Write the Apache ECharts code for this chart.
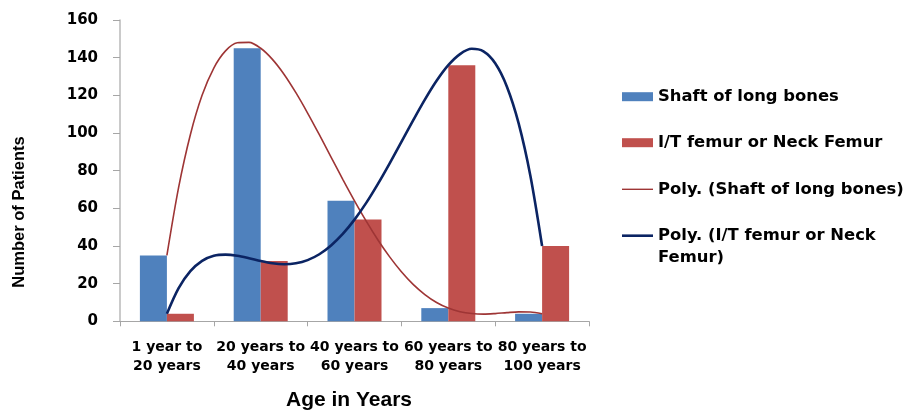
<!DOCTYPE html>
<html>
<head>
<meta charset="utf-8">
<script src="https://cdn.jsdelivr.net/npm/echarts@6/dist/echarts.min.js"></script>
<style>
html,body{margin:0;padding:0;background:#fff;}
#chart{width:906px;height:410px;}
</style>
</head>
<body>
<div id="chart"></div>
<script>
// Categories and bar values
const categories = ['1 year to\n20 years', '20 years to\n40 years', '40 years to\n60 years', '60 years to\n80 years', '80 years to\n100 years'];
const shaft = [35, 145, 64, 7, 4];
const itFemur = [4, 32, 54, 136, 40];

// Polynomial trendlines, values at eighth-category positions
const trendX = [1, 1.125, 1.25, 1.375, 1.5, 1.625, 1.75, 1.875, 2, 2.125, 2.25, 2.375, 2.5, 2.625, 2.75, 2.875,
                3, 3.125, 3.25, 3.375, 3.5, 3.625, 3.75, 3.875, 4, 4.125, 4.25, 4.375, 4.5, 4.625, 4.75, 4.875, 5];
const shaftTrend = [35, 71.1, 99.1, 120, 134.5, 143.6, 147.9, 148.1, 145, 139.1, 131.1, 121.4, 110.6, 99.1, 87.2, 75.4,
                    64, 53.2, 43.2, 34.2, 26.3, 19.6, 14.2, 10, 7, 5.1, 4.1, 3.8, 4.1, 4.6, 5, 4.9, 4];
const itTrend = [4, 17.6, 26.6, 32.1, 34.8, 35.4, 34.8, 33.5, 32, 30.8, 30.3, 30.8, 32.5, 35.6, 40.3, 46.4,
                 54, 62.9, 73, 83.9, 95.3, 106.7, 117.7, 127.7, 136, 141.9, 144.7, 143.3, 137, 124.6, 105.1, 77.3, 40];

const yTicks = {min: 0, max: 160, interval: 20};

const names = ['Shaft of long bones', 'I/T femur or Neck Femur', 'Poly. (Shaft of long bones)', 'Poly. (I/T femur or Neck Femur)'];
const colors = ['#4f81bd', '#c0504d', '#9e3535', '#0b2463'];

const pair = (xs, ys) => xs.map((x, i) => [x, ys[i]]);

const chart = echarts.init(document.getElementById('chart'), null, {renderer: 'canvas'});

const legendText = {color: '#000', fontFamily: 'DejaVu Sans', fontWeight: 'bold', fontSize: 16.4, lineHeight: 20};
const legendCenters = [96.7, 142.7, 189.3, 235.7];
const iconHeights = [9, 9, 1.4, 2.6];
const legends = names.map((n, i) => ({
  data: [{name: n, icon: 'rect', itemStyle: {color: colors[i]}}],
  orient: 'vertical',
  left: 622,
  top: legendCenters[i] - 10,
  padding: 0,
  itemWidth: 31,
  itemHeight: iconHeights[i],
  itemGap: 0,
  selectedMode: false,
  textStyle: legendText,
  formatter: i === 3 ? () => 'Poly. (I/T femur or Neck' : undefined
}));

chart.setOption({
  animation: false,
  backgroundColor: '#fff',
  grid: {left: 120, right: 317, top: 20, bottom: 88.7, containLabel: false},
  legend: legends,
  xAxis: [
    {
      type: 'category',
      data: categories,
      axisLine: {lineStyle: {color: '#a6a6a6', width: 1}},
      axisTick: {show: true, length: 5, alignWithLabel: false, lineStyle: {color: '#a6a6a6'}},
      axisLabel: {
        interval: 0, margin: 16, color: '#000',
        fontFamily: 'DejaVu Sans', fontWeight: 'bold', fontSize: 14, lineHeight: 19.3
      },
      splitLine: {show: false}
    },
    {
      type: 'value', min: 0.5, max: 5.5, show: false
    }
  ],
  yAxis: {
    type: 'value',
    min: yTicks.min, max: yTicks.max, interval: yTicks.interval,
    axisLine: {show: true, lineStyle: {color: '#b8b8b8', width: 1.5}},
    axisTick: {show: true, length: 7, lineStyle: {color: '#a6a6a6'}},
    axisLabel: {margin: 22, color: '#000', fontFamily: 'DejaVu Sans', fontWeight: 'bold', fontSize: 15},
    splitLine: {show: false}
  },
  graphic: [
    {
      type: 'text', x: 19, y: 212, rotation: Math.PI / 2,
      style: {text: 'Number of Patients', fill: '#000', font: 'bold 16.5px "Liberation Sans", Arial, sans-serif', textAlign: 'center', textVerticalAlign: 'middle'}
    },
    {
      type: 'text', x: 349, y: 400,
      style: {text: 'Age in Years', fill: '#000', font: 'bold 21px "Liberation Sans", Arial, sans-serif', textAlign: 'center', textVerticalAlign: 'middle'}
    },
    {
      type: 'text', x: 658, y: 258,
      style: {text: 'Femur)', fill: '#000', font: 'bold 16.4px "DejaVu Sans"', textAlign: 'left', textVerticalAlign: 'middle'}
    }
  ],
  series: [
    {
      name: names[0], type: 'bar', data: shaft, barWidth: 27, barGap: '0%',
      itemStyle: {color: colors[0]}
    },
    {
      name: names[1], type: 'bar', data: itFemur, barWidth: 27, barGap: '0%',
      itemStyle: {color: colors[1]}
    },
    {
      name: names[2], type: 'line', xAxisIndex: 1, data: pair(trendX, shaftTrend),
      smooth: 0.3, symbol: 'none', lineStyle: {color: colors[2], width: 1.6}, itemStyle: {color: colors[2]}, z: 5
    },
    {
      name: names[3], type: 'line', xAxisIndex: 1, data: pair(trendX, itTrend),
      smooth: 0.3, symbol: 'none', lineStyle: {color: colors[3], width: 2.6}, itemStyle: {color: colors[3]}, z: 5
    }
  ]
});
</script>
</body>
</html>
